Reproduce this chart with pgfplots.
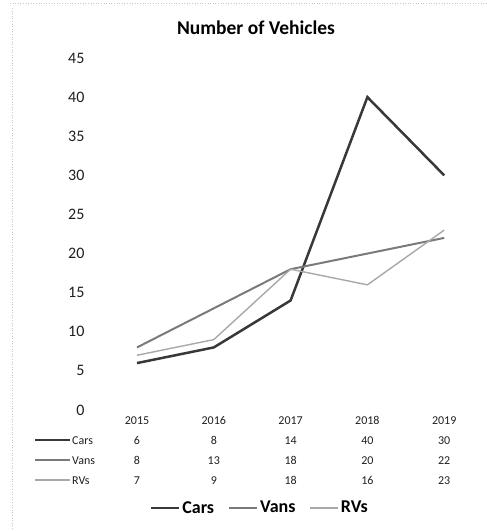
\documentclass[border=0pt]{standalone}
\usepackage{pgfplots}
\pgfplotsset{compat=1.18}
\usepackage{fontspec}
\setmainfont{Carlito}
\definecolor{carsc}{gray}{0.22}
\definecolor{vansc}{gray}{0.48}
\definecolor{rvsc}{gray}{0.66}
\definecolor{txt}{gray}{0.12}
\begin{document}
\begin{tikzpicture}
\path[use as bounding box] (0pt,0pt) rectangle (487pt,-531pt);
\begin{axis}[
  at={(98.6pt,-410pt)}, anchor=south west,
  scale only axis, width=384pt, height=352pt,
  xmin=-0.5, xmax=4.5, ymin=0, ymax=45,
  axis line style={draw=none},
  major tick length=0pt,
  xtick=\empty,
  ytick={0,5,...,45},
  /pgf/number format/assume math mode=true,
  yticklabel style={anchor=east, inner sep=0pt, xshift=-14pt, text=txt,
    font=\fontsize{16}{19}\selectfont},
  title={Number of Vehicles},
  title style={at={(0.41,1)}, anchor=center, yshift=24pt,
    font=\bfseries\fontsize{19.5}{23}\selectfont},
  clip=false,
  legend style={draw=none, legend columns=-1, at={(0.42,-0.278)}, anchor=center,
    font=\bfseries\fontsize{18}{20}\selectfont,
    /tikz/every even column/.append style={column sep=12pt}},
  legend image code/.code={\draw[#1] (0pt,0pt) -- (28pt,0pt);},
]
\addplot[carsc, line width=2.5pt] coordinates {(0,6) (1,8) (2,14) (3,40) (4,30)};
\addplot[vansc, line width=2pt] coordinates {(0,8) (1,13) (2,18) (3,20) (4,22)};
\addplot[rvsc, line width=1.4pt] coordinates {(0,7) (1,9) (2,18) (3,16) (4,23)};
\legend{Cars, Vans, RVs}
\end{axis}
\begin{scope}[x=1pt, y=-1pt]
\draw[gray!45, dotted, line width=0.6pt] (10,3) -- (487,3);
\draw[gray!45, dotted, line width=0.6pt] (12,8) -- (12,531);
\begin{scope}[every node/.style={text=txt, font=\fontsize{12}{14}\selectfont, inner sep=0pt, anchor=base}]
\node at (137,424) {2015};
\node at (213.8,424) {2016};
\node at (290.6,424) {2017};
\node at (367.4,424) {2018};
\node at (444.2,424) {2019};
\draw[carsc, line width=2.5pt] (35,440) -- (70,440);
\node[anchor=base west] at (72,444) {Cars};
\draw[vansc, line width=2pt] (35,460) -- (70,460);
\node[anchor=base west] at (72,464) {Vans};
\draw[rvsc, line width=1.4pt] (35,480) -- (70,480);
\node[anchor=base west] at (72,484) {RVs};
\node at (137,444) {6};
\node at (213.8,444) {8};
\node at (290.6,444) {14};
\node at (367.4,444) {40};
\node at (444.2,444) {30};
\node at (137,464) {8};
\node at (213.8,464) {13};
\node at (290.6,464) {18};
\node at (367.4,464) {20};
\node at (444.2,464) {22};
\node at (137,484) {7};
\node at (213.8,484) {9};
\node at (290.6,484) {18};
\node at (367.4,484) {16};
\node at (444.2,484) {23};
\end{scope}
\end{scope}
\end{tikzpicture}
\end{document}
